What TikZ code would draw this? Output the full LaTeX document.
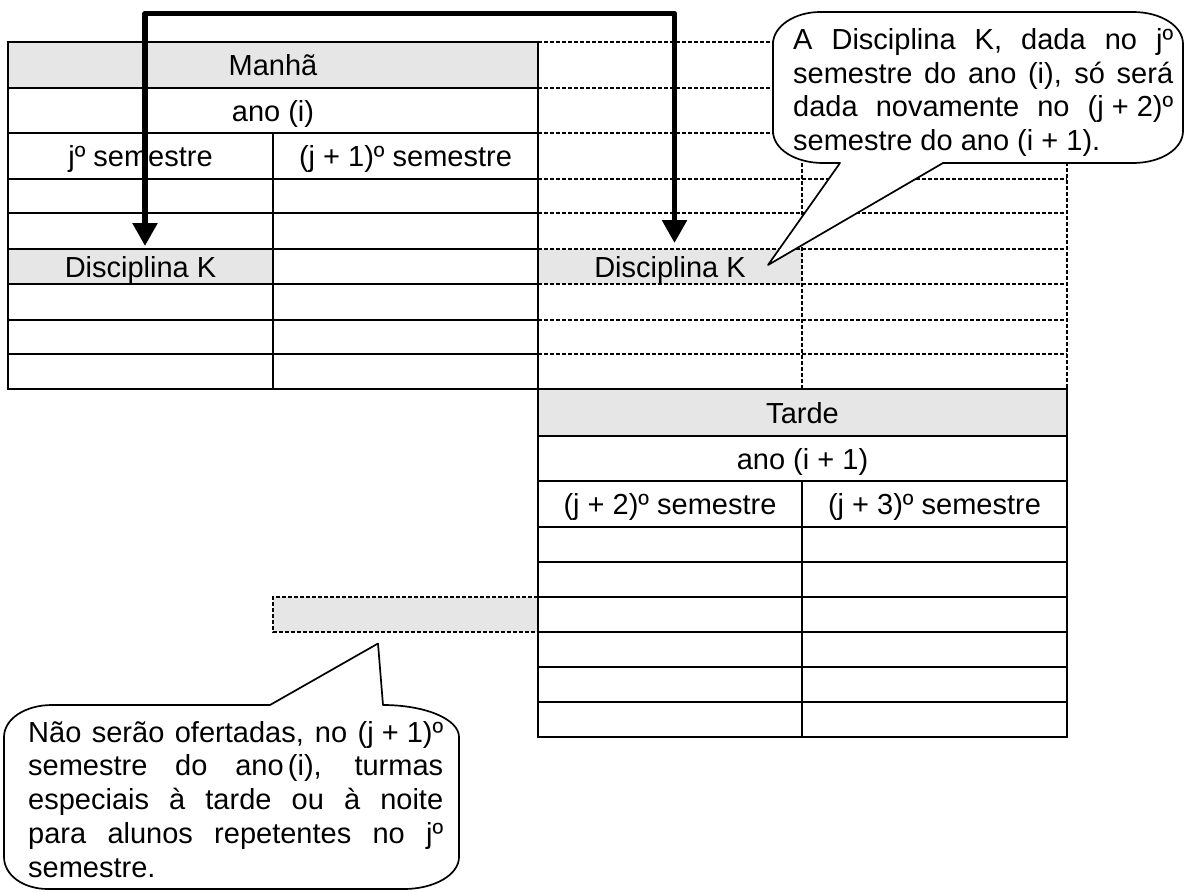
\documentclass[tikz,border=0pt]{standalone}
\usepackage{fontspec}
\setmainfont{Liberation Sans}
\usetikzlibrary{arrows.meta}
\definecolor{cellgray}{RGB}{230,230,230}
\newcommand{\myfs}{\kern0.278em}
\newcommand{\mysfs}{\kern0.15em}
\begin{document}
\begin{tikzpicture}[x=1pt,y=-1pt,
  every node/.style={font=\fontsize{29}{33.5}\selectfont, inner sep=0pt},
  grid/.style={line width=2.2pt},
  dgrid/.style={line width=2.2pt, dash pattern=on 3.6pt off 2.4pt},
  bubble/.style={draw, fill=white, line width=1.7pt, line join=round},
  bigarrow/.style={line width=5.5pt, line join=round,
    arrows={Triangle[width=24pt,length=23pt]-Triangle[width=24pt,length=23pt]}},
  celltext/.style={anchor=base},
  btext/.style={anchor=base west}]
\useasboundingbox (0,0) rectangle (1193,891);

% gray fills
\fill[cellgray] (8,42) rectangle (538,88);
\fill[cellgray] (8,249) rectangle (273,284);
\fill[cellgray] (538,249) rectangle (802,284);
\fill[cellgray] (538,389) rectangle (1067,436);
\fill[cellgray] (273,597) rectangle (538,632);

% dashed copy of the table (right)
\foreach \yy in {42,88,133,179,213,249,284,320,354}
  \draw[dgrid] (538,\yy) -- (1067,\yy);
\draw[dgrid] (802,133) -- (802,389);
\draw[dgrid] (1067,42) -- (1067,389);

% left table (Manha)
\draw[grid] (8,42) rectangle (538,389);
\foreach \yy in {88,133,179,213,249,284,320,354}
  \draw[grid] (8,\yy) -- (538,\yy);
\draw[grid] (273,133) -- (273,389);

% right table (Tarde)
\draw[grid] (538,389) rectangle (1067,737);
\foreach \yy in {436,481,527,562,597,632,667,702}
  \draw[grid] (538,\yy) -- (1067,\yy);
\draw[grid] (802,481) -- (802,737);

% gray dashed cell
\draw[dgrid] (538,597) -- (273,597) -- (273,632) -- (538,632);

% cell texts
\node[celltext] (manha) at (273,75.5) {Manhã};
\node[celltext] (anoi) at (273,121) {ano (i)};
\node[celltext] (semj) at (140.5,166.5) {jº semestre};
\node[celltext] (semj1) at (405.5,166.5) {(j + 1)º semestre};
\node[celltext] (dkL) at (140.5,277) {Disciplina K};
\node[celltext] (dkR) at (670,277) {Disciplina K};
\node[celltext] (tarde) at (802.5,423.5) {Tarde};
\node[celltext] (anoi1) at (802.5,469) {ano (i + 1)};
\node[celltext] (semj2) at (670,514.5) {(j + 2)º semestre};
\node[celltext] (semj3) at (934.5,514.5) {(j + 3)º semestre};

% thick double arrow
\coordinate (aL) at (145,246);
\coordinate (aR) at (674.5,243);
\coordinate (atop) at (0,13.5);
\draw[bigarrow] (aL) -- (aL |- atop) -- (aR |- atop) -- (aR);

% top callout
\coordinate (tipA) at (768,265);
\draw[bubble] (820,12) -- (1133,12) .. controls (1161,12) and (1183,26) .. (1183,44)
  -- (1183,131) .. controls (1183,149) and (1161,163) .. (1133,163)
  -- (943,163) -- (tipA) -- (840,163) -- (823,163)
  .. controls (795,163) and (773,149) .. (773,131)
  -- (773,44) .. controls (773,26) and (795,12) .. (820,12) -- cycle;
\node[btext] (qa1) at (793,50) {\makebox[380pt][s]{A Disciplina K, dada no jº}};
\node[btext] (qa2) at (793,83.4) {\makebox[380pt][s]{semestre do ano (i), só será}};
\node[btext] (qa3) at (793,116.8) {\makebox[380pt][s]{dada novamente no (j\myfs+\myfs2)º}};
\node[btext] (qa4) at (793,150.2) {semestre do ano (i + 1).};

% bottom callout
\coordinate (tipB) at (378,643.5);
\draw[bubble] (52,705) -- (270,705) -- (tipB) -- (383,705)
  .. controls (425,705) and (459,719) .. (459,737)
  -- (459,857) .. controls (459,875) and (434,889) .. (404,889)
  -- (48,889) .. controls (23,889) and (4,875) .. (4,857)
  -- (4,737) .. controls (4,719) and (25,705) .. (52,705) -- cycle;
\node[btext] (qb1) at (28,742) {\makebox[415pt][s]{Não serão ofertadas, no (j\myfs+\myfs1)º}};
\node[btext] (qb2) at (28,775.8) {\makebox[415pt][s]{semestre do ano\mysfs(i), turmas}};
\node[btext] (qb3) at (28,809.6) {\makebox[415pt][s]{especiais à tarde ou à noite}};
\node[btext] (qb4) at (28,843.4) {\makebox[415pt][s]{para alunos repetentes no jº}};
\node[btext] (qb5) at (28,877.2) {semestre.};
\end{tikzpicture}
\end{document}
